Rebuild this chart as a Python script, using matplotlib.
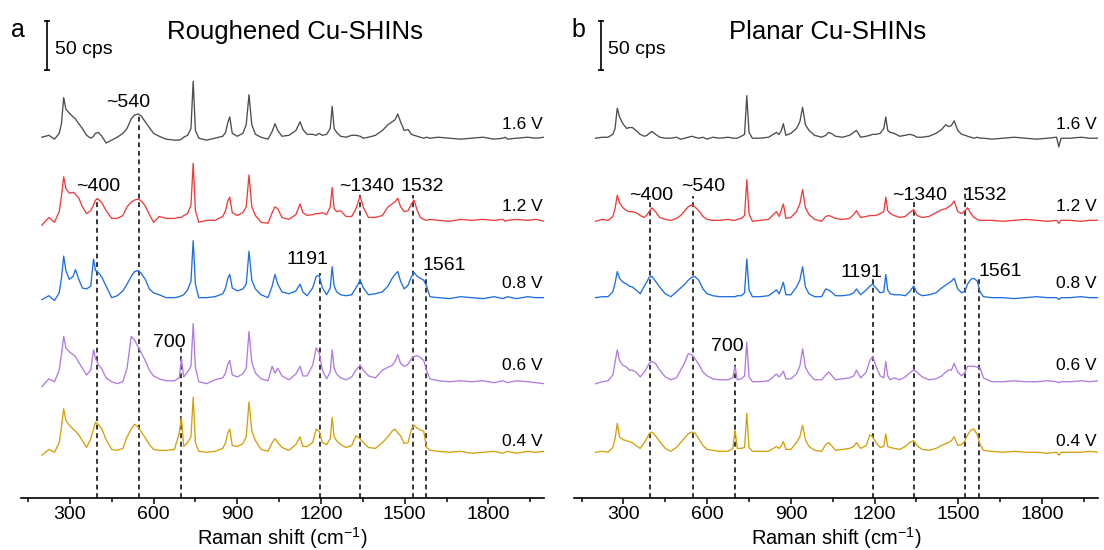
import numpy as np
import matplotlib.pyplot as plt
from matplotlib.ticker import MultipleLocator

plt.rcParams['font.family'] = ['Liberation Sans', 'DejaVu Sans']
plt.rcParams['mathtext.fontset'] = 'custom'
plt.rcParams['mathtext.rm'] = 'Liberation Sans'

# Raman shift grid (cm-1) shared by all spectra
raman_shift = [
    200, 225, 245, 262, 270, 278, 286, 298, 312, 320,
    332, 345, 360, 375, 385, 392, 402, 415, 430, 450,
    470, 490, 505, 520, 532, 545, 556, 570, 585, 600,
    620, 645, 675, 692, 700, 708, 722, 734, 742, 750,
    762, 790, 820, 848, 858, 866, 873, 882, 900, 920,
    932, 942, 952, 965, 985, 1010, 1025, 1035, 1045, 1060,
    1085, 1110, 1125, 1135, 1150, 1170, 1183, 1193, 1205, 1220,
    1233, 1240, 1247, 1256, 1270, 1290, 1310, 1325, 1340, 1352,
    1370, 1395, 1420, 1440, 1455, 1465, 1475, 1485, 1498, 1512,
    1524, 1533, 1545, 1556, 1568, 1578, 1590, 1620, 1660, 1700,
    1740, 1780, 1820, 1852, 1860, 1868, 1900, 1940, 1970, 2000]

# intensities (cps, above each trace's own baseline) - roughened Cu-SHINs
rough_16 = [
    1, 3, -1, 5, 15, 42, 30, 26, 22, 20,
    15, 10, 3, 0, 2, 5, 6, 2, -5, -2,
    1, 5, 10, 20, 24, 25, 23, 17, 11, 5,
    2, -1, -2, -2, -1, 1, 3, 10, 59, 8,
    0, -2, 0, 2, 6, 16, 22, 5, 2, 5,
    14, 45, 14, 4, 1, -1, 7, 15, 8, 2,
    3, 8, 17, 9, 4, 4, 3, 5, 3, 4,
    10, 33, 10, 6, 2, 1, 3, 3, 2, 0,
    1, 3, 8, 14, 17, 19, 25, 17, 8, 9,
    4, 3, 2, 1, 0, 1, 0, 1, 0, -1,
    0, 1, -1, 0, 1, -1, 0, 1, 0, 1]
rough_12 = [
    -5, 3, -2, 9, 25, 45, 33, 28, 29, 27,
    23, 14, 7, 10, 16, 21, 22, 18, 10, 2,
    2, 5, 14, 19, 21, 22, 20, 15, 6, -2,
    4, 2, 2, 3, 3, 5, 7, 16, 59, 10,
    -2, 0, 0, 4, 10, 20, 24, 8, 5, 8,
    14, 47, 14, 5, -2, -3, 8, 14, 12, 3,
    1, 6, 17, 8, 5, 6, 7, 7, 8, 6,
    14, 34, 12, 9, 10, 4, 4, 12, 25, 13,
    3, 3, 5, 14, 17, 19, 23, 14, 9, 10,
    17, 21, 10, 3, 1, 0, 1, 0, -1, 1,
    0, 1, 0, 1, -1, 0, 1, 0, 1, -1]
rough_08 = [
    -2, 2, -3, 5, 20, 43, 28, 19, 22, 29,
    19, 10, 9, 12, 40, 28, 26, 21, 12, 0,
    2, 7, 14, 22, 27, 28, 25, 19, 9, 5,
    3, 0, 0, 1, 2, 3, 8, 17, 59, 14,
    0, 0, 1, 4, 10, 20, 24, 10, 7, 9,
    14, 48, 18, 9, 3, 0, 12, 24, 14, 6,
    4, 7, 14, 6, 2, 10, 22, 23, 10, 3,
    10, 32, 12, 6, 3, 2, 3, 10, 18, 10,
    3, 4, 6, 12, 20, 24, 27, 17, 9, 13,
    22, 26, 22, 20, 18, 12, 1, 0, -1, 1,
    0, -1, 1, -1, 0, 1, -1, 1, 0, 0]
rough_06 = [
    -5, 3, 0, 12, 28, 47, 35, 31, 28, 26,
    20, 14, 7, 12, 33, 24, 18, 13, 4, 0,
    -2, 0, 14, 47, 43, 36, 30, 22, 12, 6,
    3, 1, 1, 4, 24, 5, 10, 16, 60, 15,
    0, -2, 2, 4, 9, 18, 22, 7, 5, 8,
    14, 52, 20, 9, 3, 1, 16, 9, 14, 6,
    2, 8, 16, 6, 6, 17, 35, 30, 12, 3,
    10, 33, 14, 8, 4, 2, 5, 12, 17, 12,
    6, 4, 12, 15, 17, 21, 28, 19, 16, 18,
    24, 26, 27, 25, 22, 12, 3, 1, 0, 1,
    0, 1, -1, 1, 0, -1, 1, 0, -1, -2]
rough_04 = [
    -3, 3, 0, 10, 26, 45, 33, 28, 24, 22,
    18, 12, 5, 14, 24, 31, 29, 24, 13, 3,
    2, 4, 16, 24, 29, 26, 21, 15, 8, 3,
    2, 2, 3, 20, 36, 6, 10, 16, 57, 10,
    1, 0, 1, 4, 10, 20, 24, 7, 6, 9,
    16, 52, 22, 12, 3, 1, 10, 14, 10, 5,
    2, 8, 16, 6, 6, 10, 24, 22, 10, 8,
    14, 36, 16, 12, 8, 5, 7, 17, 14, 10,
    5, 4, 10, 16, 22, 24, 20, 17, 9, 10,
    24, 28, 25, 23, 22, 5, 2, 1, 0, 1,
    -1, 0, 1, -1, 0, 1, -1, 1, 0, 1]

# planar Cu-SHINs
planar_16 = [
    0, 1, 1, 4, 10, 31, 22, 15, 10, 11,
    11, 8, 4, 2, 3, 5, 7, 4, 1, 0,
    0, 1, -1, 0, 1, 2, 1, 0, 1, -1,
    1, 0, 1, 0, 0, 0, 2, 4, 44, 6,
    0, 0, 1, 6, 4, 8, 15, 3, 5, 10,
    17, 32, 14, 8, 3, 1, 3, 6, 5, 2,
    1, 3, 6, 8, 1, 2, 3, 4, 4, 5,
    10, 22, 8, 6, 5, 2, 3, 4, 3, 1,
    1, 2, 5, 9, 14, 12, 13, 18, 8, 4,
    3, 2, 1, 0, 1, 0, 0, -1, 0, 1,
    0, -1, 0, 1, -9, 0, 0, 1, 0, 0]
planar_12 = [
    -1, 1, 0, 4, 12, 26, 18, 13, 10, 9,
    9, 8, 5, 3, 6, 9, 13, 9, 3, 1,
    0, 2, 5, 10, 14, 16, 14, 10, 4, 1,
    0, 0, 1, 0, 0, 1, 2, 5, 42, 7,
    -1, 0, 1, 9, 4, 11, 17, 2, 3, 9,
    17, 32, 13, 6, 1, -1, 4, 5, 4, 2,
    1, 2, 6, 10, 3, 4, 5, 5, 5, 7,
    9, 24, 10, 7, 5, 3, 4, 8, 11, 5,
    3, 4, 8, 11, 12, 14, 16, 20, 9, 7,
    10, 13, 7, 3, 1, 0, 0, 0, -1, 0,
    1, 0, -1, 0, -3, 0, 0, -1, 0, 0]
planar_08 = [
    0, 1, 1, 6, 15, 27, 20, 16, 14, 12,
    11, 8, 4, 12, 17, 21, 22, 17, 11, 4,
    1, 6, 10, 14, 18, 21, 22, 18, 9, 4,
    2, 1, 1, 1, 1, 2, 2, 5, 40, 8,
    1, 1, 2, 8, 4, 10, 16, 3, 3, 11,
    18, 32, 11, 4, 1, 1, 9, 8, 6, 2,
    2, 3, 5, 9, 3, 8, 12, 14, 10, 5,
    6, 24, 8, 4, 3, 3, 2, 6, 12, 5,
    2, 3, 5, 10, 13, 15, 17, 20, 9, 5,
    7, 14, 19, 20, 17, 6, 1, 0, 0, -1,
    0, 1, 0, 0, -2, 0, 0, 1, 0, 0]
planar_06 = [
    -2, 0, 1, 7, 20, 33, 22, 17, 15, 12,
    12, 10, 5, 10, 15, 19, 21, 19, 12, 5,
    2, 4, 12, 20, 29, 28, 24, 18, 10, 6,
    3, 2, 2, 4, 16, 2, 3, 6, 41, 5,
    0, 0, 1, 8, 5, 8, 11, 3, 3, 8,
    16, 34, 15, 8, 2, 2, 7, 10, 7, 2,
    3, 4, 6, 12, 4, 10, 22, 26, 16, 6,
    4, 21, 6, 2, 4, 2, 5, 9, 12, 10,
    5, 2, 3, 6, 10, 12, 12, 19, 10, 6,
    10, 16, 16, 16, 15, 14, 4, 0, 0, 1,
    0, 0, 1, 0, -1, 0, 0, 1, 0, 1]
planar_04 = [
    0, 1, 0, 5, 14, 30, 16, 13, 12, 11,
    10, 7, 4, 10, 15, 19, 21, 17, 11, 4,
    1, 5, 10, 15, 19, 21, 20, 14, 7, 3,
    2, 1, 1, 4, 23, 4, 4, 5, 40, 5,
    1, 1, 1, 6, 4, 7, 11, 3, 3, 10,
    16, 28, 13, 6, 2, 1, 8, 10, 7, 2,
    3, 4, 6, 10, 4, 7, 18, 16, 10, 5,
    6, 19, 6, 5, 4, 3, 6, 10, 12, 7,
    3, 2, 4, 7, 9, 10, 12, 16, 7, 8,
    12, 18, 23, 24, 18, 8, 2, 1, 0, 1,
    0, 0, -1, 0, -3, 0, 0, 0, 1, 0]

voltages = ['1.6 V', '1.2 V', '0.8 V', '0.6 V', '0.4 V']
offsets = [372, 287, 207, 120, 47]  # vertical stacking (cps)
colors = ['#4d4d4d', '#f03c3c', '#1f6fe0', '#b07ce0', '#d4a10a']

# marked bands: dashed line position and its top (cps)
rough_marks = [398, 548, 700, 1195, 1340, 1530, 1576]
rough_tops = [310, 396, 155, 233, 313, 313, 233]
planar_marks = [396, 548, 700, 1195, 1342, 1524, 1575]
planar_tops = [308, 312, 145, 230, 310, 320, 229]
band_labels = ['~400', '~540', '700', '1191', '~1340', '1532', '1561']

rough = [rough_16, rough_12, rough_08, rough_06, rough_04]
planar = [planar_16, planar_12, planar_08, planar_06, planar_04]

fig = plt.figure(figsize=(11.04, 5.5), dpi=100)
W, H = 1104, 550
ax_a = fig.add_axes([20.7 / W, 52.3 / H, 523.6 / W, 497.7 / H])
ax_b = fig.add_axes([574.3 / W, 52.3 / H, 523.6 / W, 497.7 / H])


def draw_panel(ax, spectra, marks, tops, label_pos, title, title_x):
    x = np.array(raman_shift)
    for m, t in zip(marks, tops):
        ax.plot([m, m], [0, t], color='black', lw=1.1, ls=(0, (3.2, 2.4)), zorder=1)
    for s, off, c, v, ypos in zip(spectra, offsets, colors, voltages,
                                  [386, 301, 222, 137, 58]):
        ax.plot(x, np.array(s) + off, color=c, lw=0.95, zorder=2)
        ax.text(1995, ypos, v, ha='right', va='center', fontsize=12.5)
    for txt, (lx, ly) in zip(band_labels, label_pos):
        ax.text(lx, ly, txt, ha='center', va='center', fontsize=14)

    # 50 cps scale bar
    ax.plot([220, 220], [443, 493], color='black', lw=1.2)
    ax.plot([220, 220], [443, 493], ls='none', marker='_', ms=4, mew=1.2, color='black')
    ax.text(246, 464, '50 cps', ha='left', va='center', fontsize=14)
    ax.text(title_x, 474.5, title, ha='center', va='baseline', fontsize=18.5)

    ax.set_xlim(124, 2000)
    ax.set_ylim(0, 515)
    ax.xaxis.set_minor_locator(MultipleLocator(150))
    ax.set_xticks([300, 600, 900, 1200, 1500, 1800])
    ax.tick_params(axis='x', which='major', direction='out', length=4.5, width=1.1,
                   labelsize=14, pad=1.5)
    ax.tick_params(axis='x', which='minor', direction='out', length=3, width=1.1)
    ax.set_yticks([])
    for side in ['left', 'right', 'top']:
        ax.spines[side].set_visible(False)
    ax.spines['bottom'].set_linewidth(1.2)
    ax.set_xlabel('Raman shift (cm$^{-1}$)', fontsize=14.5, va='baseline')
    ax.xaxis.set_label_coords(0.5, (5.5 - 52.3) / 497.7)
    ax.patch.set_alpha(0)


rough_label_pos = [(400, 321.6), (508, 408.6), (658, 161), (1153, 246),
                   (1362, 322), (1563, 322), (1643, 240)]
planar_label_pos = [(399, 313), (586, 322), (673, 156), (1153, 233),
                    (1361, 313), (1598, 313), (1650, 234)]

draw_panel(ax_a, rough, rough_marks, rough_tops, rough_label_pos,
           'Roughened Cu-SHINs', 1106)
draw_panel(ax_b, planar, planar_marks, planar_tops, planar_label_pos,
           'Planar Cu-SHINs', 1032)

fig.text(18 / W, 1 - 30 / H, 'a', ha='center', va='center', fontsize=18)
fig.text(578 / W, 1 - 30 / H, 'b', ha='center', va='center', fontsize=18)

fig.savefig('out.png', dpi=100)
